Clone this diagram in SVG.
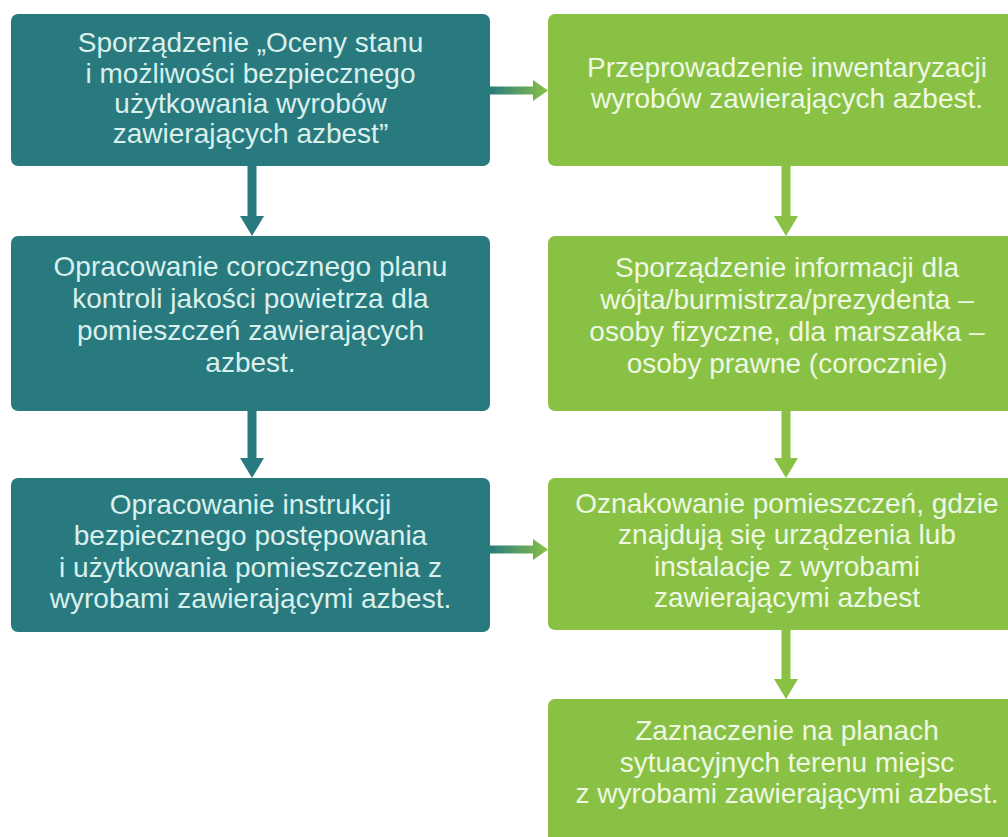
<svg xmlns="http://www.w3.org/2000/svg" width="1008" height="837" viewBox="0 0 1008 837">
<style>
.teal{fill:#297a7f}
.green{fill:#88c144}
.t{font-family:"Liberation Sans",Arial,sans-serif;font-size:28px;text-anchor:middle}
.tt{fill:#d9f0ec}
.gt{fill:#eef8e2}
.ta{fill:#297a7f}
.ga{fill:#88c144}
</style>
<defs>
<linearGradient id="hg" x1="0" y1="0" x2="1" y2="0">
<stop offset="0" stop-color="#297a7f"/>
<stop offset="1" stop-color="#88c144"/>
</linearGradient>
</defs>
<rect width="1008" height="837" fill="#ffffff"/>
<g id="connectors">
<path class="ta" d="M247.5 166 V216 H240 L252 236 L264 216 H256.5 V166 Z"/>
<path class="ta" d="M247.5 411 V458 H240 L252 478 L264 458 H256.5 V411 Z"/>
<path class="ga" d="M781.5 166 V216 H774 L786 236 L798 216 H790.5 V166 Z"/>
<path class="ga" d="M781.5 411 V458 H774 L786 478 L798 458 H790.5 V411 Z"/>
<path class="ga" d="M781.5 630 V679 H774 L786 699 L798 679 H790.5 V630 Z"/>
<path fill="url(#hg)" d="M489 86.5 H533 V80 L548 90.5 L533 101 V94.5 H489 Z"/>
<path fill="url(#hg)" d="M489 545.5 H533 V539 L548 549.5 L533 560 V553.5 H489 Z"/>
</g>
<g id="n1">
<rect class="teal" x="11" y="14" width="479" height="152" rx="7"/>
<text class="t tt"><tspan x="250.5" y="52">Sporządzenie „Oceny stanu</tspan><tspan x="250.5" y="83">i możliwości bezpiecznego</tspan><tspan x="250.5" y="113">użytkowania wyrobów</tspan><tspan x="250.5" y="143">zawierających azbest”</tspan></text>
</g>
<g id="n2">
<rect class="teal" x="11" y="236" width="479" height="175" rx="7"/>
<text class="t tt"><tspan x="250.5" y="276">Opracowanie corocznego planu</tspan><tspan x="250.5" y="308">kontroli jakości powietrza dla</tspan><tspan x="250.5" y="340">pomieszczeń zawierających</tspan><tspan x="250.5" y="372">azbest.</tspan></text>
</g>
<g id="n3">
<rect class="teal" x="11" y="478" width="479" height="154" rx="7"/>
<text class="t tt"><tspan x="250.5" y="514">Opracowanie instrukcji</tspan><tspan x="250.5" y="545">bezpiecznego postępowania</tspan><tspan x="250.5" y="577">i użytkowania pomieszczenia z</tspan><tspan x="250.5" y="608">wyrobami zawierającymi azbest.</tspan></text>
</g>
<g id="n4">
<rect class="green" x="548" y="14" width="478" height="152" rx="7"/>
<text class="t gt"><tspan x="787" y="77">Przeprowadzenie inwentaryzacji</tspan><tspan x="787" y="108">wyrobów zawierających azbest.</tspan></text>
</g>
<g id="n5">
<rect class="green" x="548" y="236" width="478" height="175" rx="7"/>
<text class="t gt"><tspan x="787" y="277">Sporządzenie informacji dla</tspan><tspan x="787" y="309">wójta/burmistrza/prezydenta –</tspan><tspan x="787" y="341">osoby fizyczne, dla marszałka –</tspan><tspan x="787" y="373">osoby prawne (corocznie)</tspan></text>
</g>
<g id="n6">
<rect class="green" x="548" y="478" width="478" height="152" rx="7"/>
<text class="t gt"><tspan x="787" y="513">Oznakowanie pomieszczeń, gdzie</tspan><tspan x="787" y="544">znajdują się urządzenia lub</tspan><tspan x="787" y="576">instalacje z wyrobami</tspan><tspan x="787" y="607">zawierającymi azbest</tspan></text>
</g>
<g id="n7">
<rect class="green" x="548" y="699" width="478" height="150" rx="7"/>
<text class="t gt"><tspan x="787" y="740">Zaznaczenie na planach</tspan><tspan x="787" y="772">sytuacyjnych terenu miejsc</tspan><tspan x="787" y="803">z wyrobami zawierającymi azbest.</tspan></text>
</g>
</svg>
